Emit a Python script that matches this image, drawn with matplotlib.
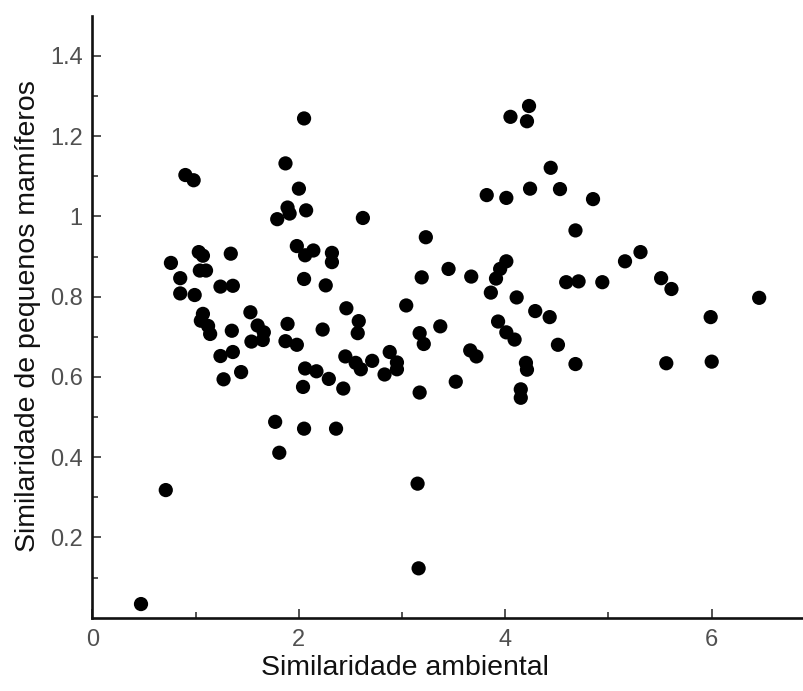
import matplotlib
matplotlib.use('Agg')
import matplotlib.pyplot as plt
from matplotlib.ticker import MultipleLocator, FixedLocator, FuncFormatter

# similaridade ambiental (x) vs similaridade de pequenos mamiferos (y)
env_sim = [
    0.47, 0.71, 0.76, 0.85, 0.85, 0.90, 0.98, 0.99, 1.03, 1.07,
    1.04, 1.10, 1.07, 1.05, 1.12, 1.14, 1.24, 1.36, 1.34, 1.35,
    1.24, 1.36, 1.27, 1.44, 1.53, 1.60, 1.66, 1.54, 1.65, 1.77,
    1.81, 1.79, 1.87, 1.89, 1.91, 1.89, 1.87, 1.98, 1.98, 2.00,
    2.05, 2.07, 2.06, 2.14, 2.05, 2.32, 2.32, 2.26, 2.23, 2.46,
    2.58, 2.57, 2.62, 2.06, 2.17, 2.29, 2.04, 2.43, 2.45, 2.55,
    2.60, 2.71, 2.88, 2.95, 2.95, 2.83, 2.05, 2.36, 3.04, 3.23,
    3.19, 3.17, 3.21, 3.37, 3.45, 3.17, 3.52, 3.15, 3.16, 3.67,
    3.66, 3.72, 3.82, 4.01, 4.05, 4.23, 4.21, 4.24, 4.44, 4.53,
    4.01, 3.95, 3.91, 3.86, 4.11, 4.29, 4.43, 3.93, 4.01, 4.09,
    4.20, 4.21, 4.15, 4.15, 4.51, 4.59, 4.71, 4.68, 4.85, 4.68,
    4.94, 5.16, 5.31, 5.51, 5.61, 5.56, 5.99, 6.00, 6.46,
]
mammal_sim = [
    0.034, 0.318, 0.884, 0.846, 0.808, 1.103, 1.090, 0.804, 0.911, 0.902,
    0.865, 0.865, 0.757, 0.740, 0.727, 0.707, 0.825, 0.827, 0.907, 0.715,
    0.652, 0.662, 0.594, 0.612, 0.761, 0.728, 0.711, 0.688, 0.692, 0.488,
    0.411, 0.993, 1.132, 1.022, 1.007, 0.732, 0.689, 0.680, 0.926, 1.069,
    1.244, 1.015, 0.903, 0.915, 0.844, 0.909, 0.886, 0.828, 0.718, 0.771,
    0.739, 0.709, 0.996, 0.621, 0.614, 0.595, 0.575, 0.571, 0.651, 0.635,
    0.619, 0.640, 0.662, 0.636, 0.619, 0.606, 0.471, 0.471, 0.778, 0.948,
    0.848, 0.709, 0.682, 0.726, 0.869, 0.561, 0.588, 0.334, 0.123, 0.850,
    0.666, 0.651, 1.053, 1.046, 1.248, 1.275, 1.237, 1.069, 1.121, 1.068,
    0.888, 0.869, 0.845, 0.810, 0.798, 0.764, 0.749, 0.738, 0.711, 0.693,
    0.635, 0.618, 0.569, 0.548, 0.680, 0.836, 0.838, 0.965, 1.043, 0.632,
    0.836, 0.888, 0.911, 0.846, 0.819, 0.634, 0.749, 0.638, 0.797,
]

plt.rcParams['font.family'] = ['Liberation Sans', 'DejaVu Sans']

fig = plt.figure(figsize=(8.04, 6.91), dpi=100)
ax = fig.add_axes([92.5 / 804, 73.3 / 691, 722.4 / 804, 602.0 / 691])

ax.scatter(env_sim, mammal_sim, s=105, c='black', edgecolors='none', zorder=3)

ax.set_xlim(0, 7)
ax.set_ylim(0, 1.5)

for side in ['top', 'right']:
    ax.spines[side].set_visible(False)
for side in ['left', 'bottom']:
    ax.spines[side].set_linewidth(1.9)
    ax.spines[side].set_color('#111111')

ax.xaxis.set_major_locator(MultipleLocator(2))
ax.xaxis.set_minor_locator(MultipleLocator(1))
ax.yaxis.set_major_locator(FixedLocator([0.2, 0.4, 0.6, 0.8, 1.0, 1.2, 1.4]))
ax.yaxis.set_minor_locator(FixedLocator([0.1, 0.3, 0.5, 0.7, 0.9, 1.1, 1.3]))
ax.yaxis.set_major_formatter(FuncFormatter(lambda v, p: f'{v:g}'))

ax.tick_params(which='both', direction='in', colors='#222222', width=1.1,
               labelcolor='#505050', labelsize=17)
ax.tick_params(which='major', length=6.5, pad=7)
ax.tick_params(which='minor', length=4.5)
ax.tick_params(axis='x', which='major', pad=8)

fig.text(405 / 804, 1 - 668 / 691, 'Similaridade ambiental',
         ha='center', va='center', fontsize=20.5, color='#111111')
fig.text(28 / 804, 1 - 316 / 691, 'Similaridade de pequenos mamíferos',
         ha='center', va='center', rotation=90, fontsize=20.5, color='#111111')

fig.savefig('out.png', dpi=100)
